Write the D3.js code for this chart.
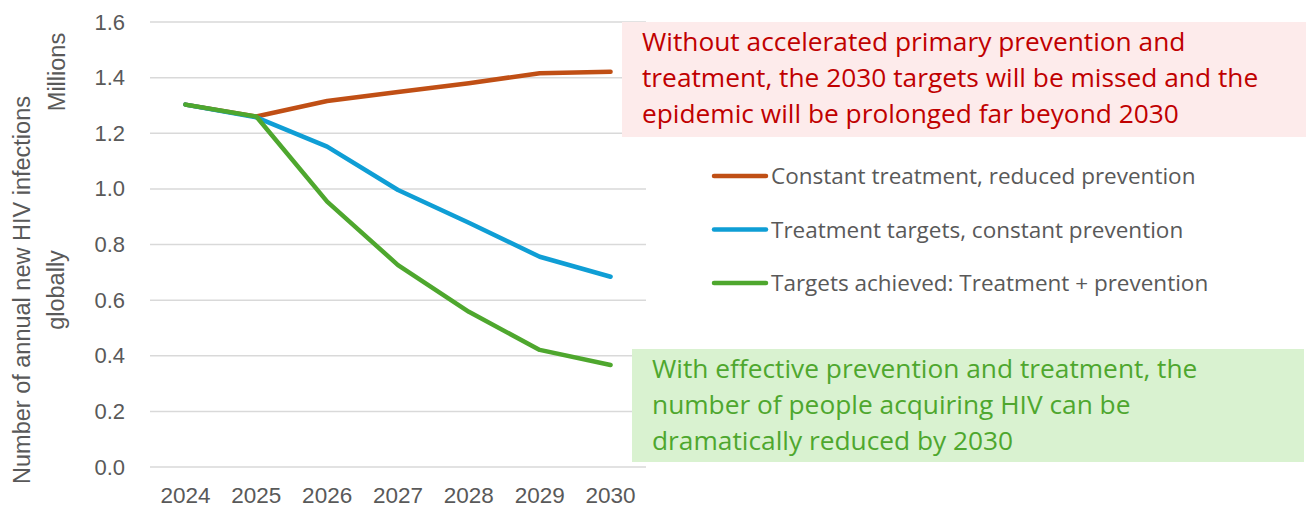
<!DOCTYPE html>
<html>
<head>
<meta charset="utf-8">
<script src="https://cdn.jsdelivr.net/npm/d3@7"></script>
<style>
  body { margin: 0; background: #fff; }
  svg { display: block; }
</style>
</head>
<body>
<svg id="chart" width="1306" height="511"></svg>
<script>
var years = ["2024", "2025", "2026", "2027", "2028", "2029", "2030"];
var constantTreatment = [1.303, 1.26, 1.316, 1.348, 1.38, 1.416, 1.421];
var treatmentTargets = [1.303, 1.257, 1.152, 0.996, 0.878, 0.756, 0.684];
var targetsAchieved = [1.303, 1.26, 0.954, 0.726, 0.558, 0.421, 0.367];
var yTicks = [0, 0.2, 0.4, 0.6, 0.8, 1.0, 1.2, 1.4, 1.6];
var seriesNames = [
  "Constant treatment, reduced prevention",
  "Treatment targets, constant prevention",
  "Targets achieved: Treatment + prevention"
];
var noteMissed = [
  "Without accelerated primary prevention and",
  "treatment, the 2030 targets will be missed and the",
  "epidemic will be prolonged far beyond 2030"
];
var noteReduced = [
  "With effective prevention and treatment, the",
  "number of people acquiring HIV can be",
  "dramatically reduced by 2030"
];

var svg = d3.select("#chart");
var colors = ["#C04F15", "#0F9ED5", "#4EA72E"];
var textGray = "#595959";
var baseFont = "'Liberation Sans', Arial, sans-serif";
var noteFont = "'Open Sans', 'Liberation Sans', sans-serif";

var x = d3.scaleBand().domain(years).range([150, 646]);
var y = d3.scaleLinear().domain([0, 1.6]).range([467, 22]);
var cx = function(d) { return x(d) + x.bandwidth() / 2; };

// gridlines
svg.append("g")
  .selectAll("line")
  .data(yTicks)
  .enter().append("line")
  .attr("x1", 150).attr("x2", 646)
  .attr("y1", function(d) { return y(d); })
  .attr("y2", function(d) { return y(d); })
  .attr("stroke", "#D9D9D9")
  .attr("stroke-width", 1.5);

// y axis labels
var yAxis = svg.append("g")
  .attr("transform", "translate(140,0)")
  .call(d3.axisLeft(y).tickValues(yTicks).tickFormat(d3.format(".1f")).tickSize(0).tickPadding(15));
yAxis.select(".domain").remove();
yAxis.selectAll("text")
  .attr("fill", textGray)
  .style("font-family", baseFont)
  .style("font-size", "22px");

// x axis labels
var xAxis = svg.append("g")
  .attr("transform", "translate(0,467)")
  .call(d3.axisBottom(x).tickSize(0).tickPadding(20));
xAxis.select(".domain").remove();
xAxis.selectAll("text")
  .attr("fill", textGray)
  .style("font-family", baseFont)
  .style("font-size", "22.5px");

// axis title
var title = svg.append("text")
  .attr("transform", "translate(0,290) rotate(-90)")
  .attr("text-anchor", "middle")
  .attr("fill", textGray)
  .style("font-family", baseFont)
  .style("font-size", "23.5px");
title.append("tspan").attr("x", 0).attr("y", 30).text("Number of annual new HIV infections");
title.append("tspan").attr("x", 0).attr("y", 64).text("globally");

svg.append("text")
  .attr("transform", "translate(65,72) rotate(-90)")
  .attr("text-anchor", "middle")
  .attr("fill", textGray)
  .style("font-family", baseFont)
  .style("font-size", "23.5px")
  .text("Millions");

// lines
var allSeries = [constantTreatment, treatmentTargets, targetsAchieved];
var line = d3.line()
  .x(function(d, i) { return cx(years[i]); })
  .y(function(d) { return y(d); });

svg.append("g")
  .selectAll("path")
  .data(allSeries)
  .enter().append("path")
  .attr("d", line)
  .attr("fill", "none")
  .attr("stroke", function(d, i) { return colors[i]; })
  .attr("stroke-width", 4.5)
  .attr("stroke-linecap", "round")
  .attr("stroke-linejoin", "round");

// legend
var legend = svg.append("g")
  .selectAll("g")
  .data(seriesNames)
  .enter().append("g")
  .attr("transform", function(d, i) { return "translate(712," + (176 + i * 53.5) + ")"; });
legend.append("line")
  .attr("x1", 2).attr("x2", 54)
  .attr("stroke", function(d, i) { return colors[i]; })
  .attr("stroke-width", 4.5)
  .attr("stroke-linecap", "round");
legend.append("text")
  .attr("x", 59).attr("y", 8)
  .attr("fill", textGray)
  .style("font-family", noteFont)
  .style("font-size", "22.5px")
  .text(function(d) { return d; });

// annotation boxes
function note(lines, bx, by, bw, bh, fill, color) {
  var g = svg.append("g");
  g.append("rect")
    .attr("x", bx).attr("y", by)
    .attr("width", bw).attr("height", bh)
    .attr("fill", fill);
  g.selectAll("text")
    .data(lines)
    .enter().append("text")
    .attr("x", bx + 20)
    .attr("y", function(d, i) { return by + 29 + i * 36; })
    .attr("fill", color)
    .style("font-family", noteFont)
    .style("font-size", "26.3px")
    .text(function(d) { return d; });
}
note(noteMissed, 622, 22, 684, 115, "#FDEBEB", "#C00000");
note(noteReduced, 632, 349, 672, 113, "#D9F2D0", "#4EA72E");
</script>
</body>
</html>
